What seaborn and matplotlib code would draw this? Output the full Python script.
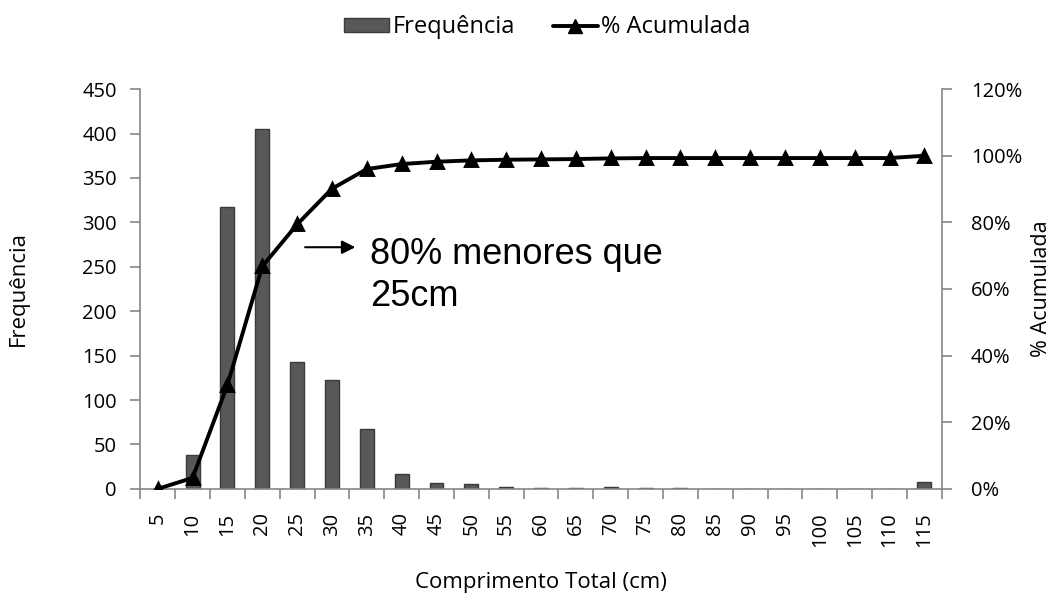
import pandas as pd
import matplotlib.pyplot as plt
import seaborn as sns
from matplotlib.ticker import PercentFormatter, MultipleLocator
from matplotlib.patches import Patch
from matplotlib.lines import Line2D

# Data
comprimento = ['5', '10', '15', '20', '25', '30', '35', '40', '45', '50', '55', '60',
               '65', '70', '75', '80', '85', '90', '95', '100', '105', '110', '115']
frequencia = [0, 38, 317, 405, 143, 122, 67, 17, 7, 5, 2, 1,
              1, 2, 1, 1, 0, 0, 0, 0, 0, 0, 8]
acumulada = [0.0, 3.3, 31.2, 66.8, 79.4, 90.1, 96.0, 97.5, 98.2, 98.6, 98.8, 98.9,
             99.0, 99.2, 99.3, 99.3, 99.3, 99.3, 99.3, 99.3, 99.3, 99.3, 100.0]

df = pd.DataFrame({'Comprimento': comprimento, 'Frequencia': frequencia, 'Acumulada': acumulada})

sns.set_theme(style="white")
plt.rcParams['font.family'] = ['Open Sans', 'DejaVu Sans']
plt.rcParams['text.color'] = 'black'
plt.rcParams['axes.labelcolor'] = 'black'
plt.rcParams['xtick.color'] = 'black'
plt.rcParams['ytick.color'] = 'black'

fig, ax = plt.subplots(figsize=(10.63, 5.94), dpi=100)
fig.subplots_adjust(left=0.132, right=0.886, top=0.85, bottom=0.177)

bar_color = '#585858'
sns.barplot(data=df, x='Comprimento', y='Frequencia', order=comprimento, color=bar_color,
            edgecolor='#3a3a3a', linewidth=1, width=0.4, saturation=1, ax=ax)
ax.set_ylim(0, 450)
ax.yaxis.set_major_locator(MultipleLocator(50))
ax.set_xlim(-0.5, len(comprimento) - 0.5)

ax2 = ax.twinx()
sns.pointplot(data=df, x='Comprimento', y='Acumulada', order=comprimento, color='black',
              markers='^', linestyles='-', markersize=9, linewidth=2.8, ax=ax2)
ax2.set_ylim(0, 120)
ax2.yaxis.set_major_locator(MultipleLocator(20))
ax2.yaxis.set_major_formatter(PercentFormatter(xmax=100, decimals=0))
ax2.set_xlim(-0.5, len(comprimento) - 0.5)

# Excel-like axes
for a in (ax, ax2):
    for s in a.spines.values():
        s.set_visible(False)
for s in (ax.spines['left'], ax.spines['bottom'], ax2.spines['right']):
    s.set_visible(True)
    s.set_color('#868686')
    s.set_linewidth(1.2)

ax.tick_params(axis='y', direction='out', length=7, width=1.2, color='#868686',
               labelsize=14.5, pad=10, left=True)
ax2.tick_params(axis='y', direction='out', length=7, width=1.2, color='#868686',
                labelsize=14.5, pad=14, right=True)
ax.tick_params(axis='x', length=0, labelsize=14.5, rotation=90, pad=17)
ax.set_xticks([i + 0.5 for i in range(-1, len(comprimento))], minor=True)
ax.tick_params(axis='x', which='minor', direction='out', length=7, width=1.2,
               color='#868686', bottom=True)

ax.set_xlabel('Comprimento Total (cm)', fontsize=16, labelpad=18)
ax.set_ylabel('Frequência', fontsize=16, labelpad=38)
ax2.set_ylabel('% Acumulada', fontsize=15.5, labelpad=6)

# Annotation
ax.annotate('', xy=(5.75, 272), xytext=(4.15, 272), xycoords='data',
            arrowprops=dict(arrowstyle='-|>', color='black', lw=1.5, mutation_scale=20))
ax.text(6.1, 240, '80% menores que\n25cm', fontsize=26, family='Liberation Sans',
        va='center', ha='left', linespacing=1.25)

# Legend
handles = [Patch(facecolor=bar_color, edgecolor='#3a3a3a'),
           Line2D([0], [0], color='black', lw=2.8, marker='^', markersize=10)]
fig.legend(handles, ['Frequência', '% Acumulada'], loc='upper center', ncol=2,
           bbox_to_anchor=(0.515, 1.01), frameon=False, fontsize=17, handlelength=1.9,
           handleheight=0.5, handletextpad=0.15, columnspacing=1.6)

plt.savefig('out.png', dpi=100)
